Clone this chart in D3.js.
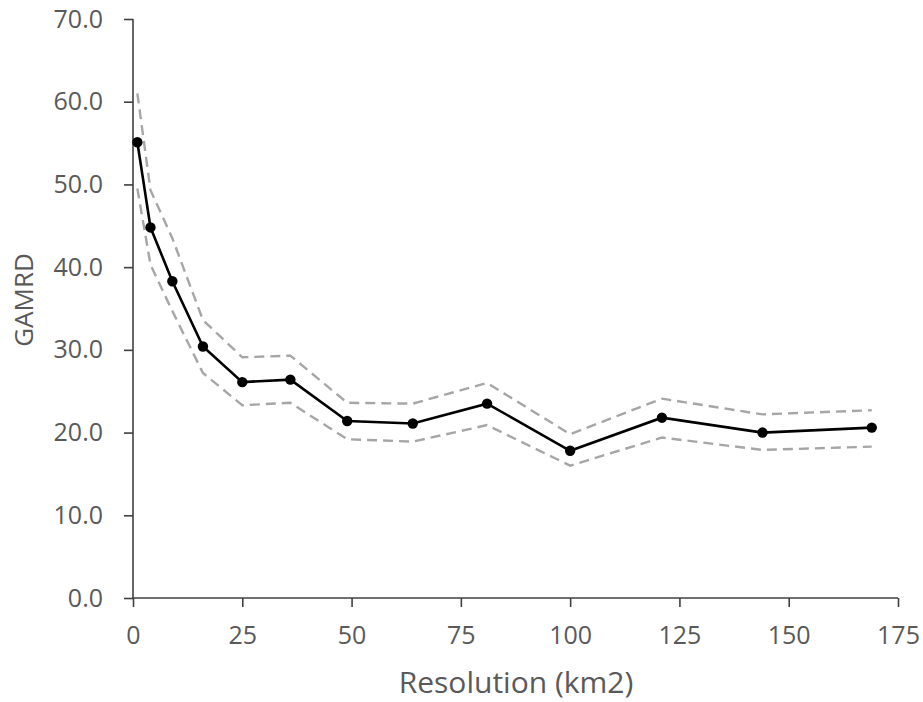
<!DOCTYPE html>
<html>
<head>
<meta charset="utf-8">
<script src="https://cdn.jsdelivr.net/npm/d3@7"></script>
<style>
  body { margin: 0; background: #fff; }
  svg text { font-family: "Open Sans", "Noto Sans", sans-serif; fill: #595959; }
</style>
</head>
<body>
<svg id="chart" width="923" height="702"></svg>
<script>
// Resolution (km2) against GAMRD, with upper / lower bounds
const resolution = [1, 4, 9, 16, 25, 36, 49, 64, 81, 100, 121, 144, 169];
const gamrd      = [55.1, 44.8, 38.3, 30.4, 26.1, 26.4, 21.4, 21.1, 23.5, 17.8, 21.8, 20.0, 20.6];
const upper      = [61.0, 49.3, 43.5, 33.6, 29.1, 29.3, 23.6, 23.5, 26.0, 19.8, 24.1, 22.2, 22.7];
const lower      = [49.5, 40.3, 34.7, 27.2, 23.3, 23.6, 19.2, 18.9, 20.9, 16.0, 19.4, 17.9, 18.3];
const xTicks = [0, 25, 50, 75, 100, 125, 150, 175];
const yTicks = [0, 10, 20, 30, 40, 50, 60, 70];

const svg = d3.select('#chart');
const m = {left: 133, right: 898, top: 19, bottom: 598};

const x = d3.scaleLinear().domain([0, 175]).range([m.left, m.right]);
const y = d3.scaleLinear().domain([0, 70]).range([m.bottom, m.top]);

// Axes
const xAxis = svg.append('g')
  .attr('transform', 'translate(0,' + m.bottom + ')')
  .call(d3.axisBottom(x).tickValues(xTicks).tickSize(9).tickPadding(19).tickFormat(d3.format('d')));
const yAxis = svg.append('g')
  .attr('transform', 'translate(' + m.left + ',0)')
  .call(d3.axisLeft(y).tickValues(yTicks).tickSize(9).tickPadding(21).tickFormat(d3.format('.1f')));

for (let ax of [xAxis, yAxis]) {
  ax.select('.domain').attr('stroke', '#404040').attr('stroke-width', 1.6);
  ax.selectAll('.tick line').attr('stroke', '#404040').attr('stroke-width', 1.6);
  ax.selectAll('.tick text').attr('font-size', 25).attr('fill', '#595959')
    .style('font-family', '"Open Sans", "Noto Sans", sans-serif');
}
// no outer ticks on the domain lines
xAxis.select('.domain').attr('d', 'M' + m.left + ',0H' + m.right);
yAxis.select('.domain').attr('d', 'M0,' + m.bottom + 'V' + m.top);

// Axis titles
svg.append('text')
  .attr('x', 516)
  .attr('y', 693)
  .attr('text-anchor', 'middle')
  .attr('font-size', 30)
  .text('Resolution (km2)');
svg.append('text')
  .attr('transform', 'translate(33,300) rotate(-90)')
  .attr('text-anchor', 'middle')
  .attr('font-size', 26)
  .text('GAMRD');

// Bounds
const line = d3.line().x((d, i) => x(resolution[i])).y(d => y(d));
for (let band of [upper, lower]) {
  svg.append('path')
    .datum(band)
    .attr('d', line)
    .attr('fill', 'none')
    .attr('stroke', '#a6a6a6')
    .attr('stroke-width', 2.4)
    .attr('stroke-dasharray', '10,6');
}

// Main series
svg.append('path')
  .datum(gamrd)
  .attr('d', line)
  .attr('fill', 'none')
  .attr('stroke', '#000')
  .attr('stroke-width', 2.6);

svg.selectAll('circle.pt')
  .data(gamrd)
  .enter().append('circle')
  .attr('class', 'pt')
  .attr('cx', (d, i) => x(resolution[i]))
  .attr('cy', d => y(d))
  .attr('r', 5.2)
  .attr('fill', '#000');
</script>
</body>
</html>
